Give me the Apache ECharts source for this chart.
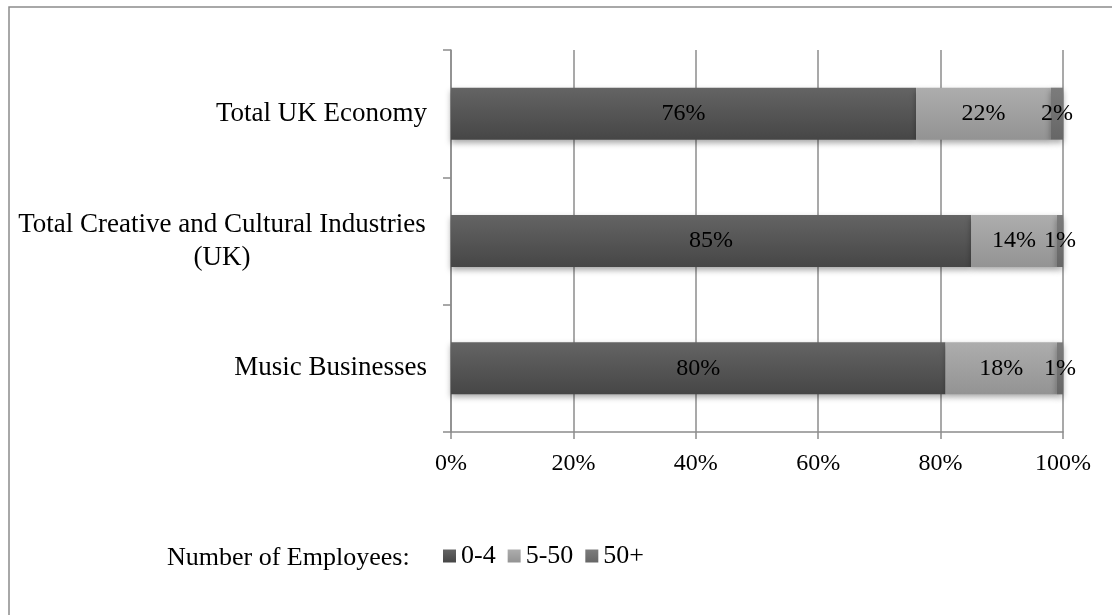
<!DOCTYPE html>
<html>
<head>
<meta charset="utf-8">
<script src="https://cdn.jsdelivr.net/npm/echarts@6/dist/echarts.min.js"></script>
<style>
html,body{margin:0;padding:0;background:#fff;}
#chart{width:1112px;height:615px;}
</style>
</head>
<body>
<div id="chart"></div>
<script>
// Data (bottom to top as drawn)
var categories = ['Music Businesses', 'Total Creative and Cultural Industries\n(UK)', 'Total UK Economy'];
var seriesNames = ['0-4', '5-50', '50+'];
var emp0to4 = [80, 85, 76];
var emp5to50 = [18, 14, 22];
var emp50plus = [1, 1, 2];
var xTickLabels = ['0%', '20%', '40%', '60%', '80%', '100%'];
var legendTitle = 'Number of Employees:';

var FONT = "'Liberation Serif', 'Times New Roman', serif";
var CAT_FS = 27;
var raw = [emp0to4, emp5to50, emp50plus];
var totals = categories.map(function (c, i) { return emp0to4[i] + emp5to50[i] + emp50plus[i]; });
var pct = raw.map(function (arr) { return arr.map(function (v, i) { return v / totals[i] * 100; }); });

// measure widest line of multi-line labels for centered rich text
var cv = document.createElement('canvas').getContext('2d');
cv.font = CAT_FS + "px " + FONT;
function lineW(s) { return Math.ceil(cv.measureText(s).width) + 2; }

var chart = echarts.init(document.getElementById('chart'), null, { renderer: 'canvas' });

var gradients = [
  new echarts.graphic.LinearGradient(0, 0, 0, 1, [{ offset: 0, color: '#646464' }, { offset: 1, color: '#464646' }]),
  new echarts.graphic.LinearGradient(0, 0, 0, 1, [{ offset: 0, color: '#adadad' }, { offset: 1, color: '#939393' }]),
  new echarts.graphic.LinearGradient(0, 0, 0, 1, [{ offset: 0, color: '#7c7c7c' }, { offset: 1, color: '#666666' }])
];
var legendColors = ['#555555', '#a3a3a3', '#727272'];

var series = seriesNames.map(function (name, k) {
  return {
    name: name,
    type: 'bar',
    stack: 'total',
    barWidth: 52,
    data: pct[k],
    color: legendColors[k],
    itemStyle: {
      color: gradients[k],
      shadowColor: 'rgba(0,0,0,0.35)',
      shadowBlur: 6,
      shadowOffsetY: 3
    },
    label: {
      show: true,
      position: 'inside',
      color: '#000',
      fontFamily: FONT,
      fontSize: 24,
      formatter: function (p) { return raw[k][p.dataIndex] + '%'; }
    }
  };
});

chart.setOption({
  animation: false,
  backgroundColor: '#fff',
  textStyle: { fontFamily: FONT },
  grid: { left: 451, right: 49, top: 50, bottom: 183, containLabel: false },
  xAxis: {
    type: 'value',
    min: 0, max: 100, interval: 20,
    axisLine: { show: true, lineStyle: { color: '#8c8c8c', width: 1.5 } },
    axisTick: { show: true, length: 7, lineStyle: { color: '#8c8c8c', width: 1.5 } },
    splitLine: { show: true, lineStyle: { color: '#8c8c8c', width: 1.5 } },
    axisLabel: {
      color: '#000', fontFamily: FONT, fontSize: 24, margin: 20,
      formatter: function (v) { return xTickLabels[Math.round(v / 20)]; }
    }
  },
  yAxis: {
    type: 'category',
    data: categories,
    axisLine: { show: true, lineStyle: { color: '#8c8c8c', width: 1.5 } },
    axisTick: { show: true, length: 8, lineStyle: { color: '#8c8c8c', width: 1.5 } },
    axisLabel: {
      color: '#000', fontFamily: FONT, fontSize: CAT_FS, margin: 24,
      formatter: function (v) {
        if (v.indexOf('\n') < 0) return v;
        var lines = v.split('\n');
        var w = Math.max.apply(null, lines.map(lineW));
        return lines.map(function (l) { return '{c' + w + '|' + l + '}'; }).join('\n');
      },
      rich: (function () {
        var r = {};
        categories.forEach(function (c) {
          if (c.indexOf('\n') >= 0) {
            var w = Math.max.apply(null, c.split('\n').map(lineW));
            r['c' + w] = { width: w, align: 'center', fontSize: CAT_FS, fontFamily: FONT, color: '#000', lineHeight: 33 };
          }
        });
        return r;
      })()
    }
  },
  legend: {
    left: 443,
    top: 543,
    padding: 0,
    icon: 'rect',
    itemWidth: 13,
    itemHeight: 13,
    itemGap: 12,
    data: seriesNames,
    textStyle: { color: '#000', fontFamily: FONT, fontSize: 26 }
  },
  graphic: [
    {
      type: 'rect', silent: true,
      shape: { x: 9, y: 7, width: 1300, height: 800 },
      style: { fill: 'none', stroke: '#8c8c8c', lineWidth: 1.5 }
    },
    {
      type: 'text', x: 167, y: 558, silent: true,
      style: { text: legendTitle, fontFamily: FONT, fontSize: 26, fill: '#000', verticalAlign: 'middle', align: 'left' }
    }
  ],
  series: series
});
</script>
</body>
</html>
